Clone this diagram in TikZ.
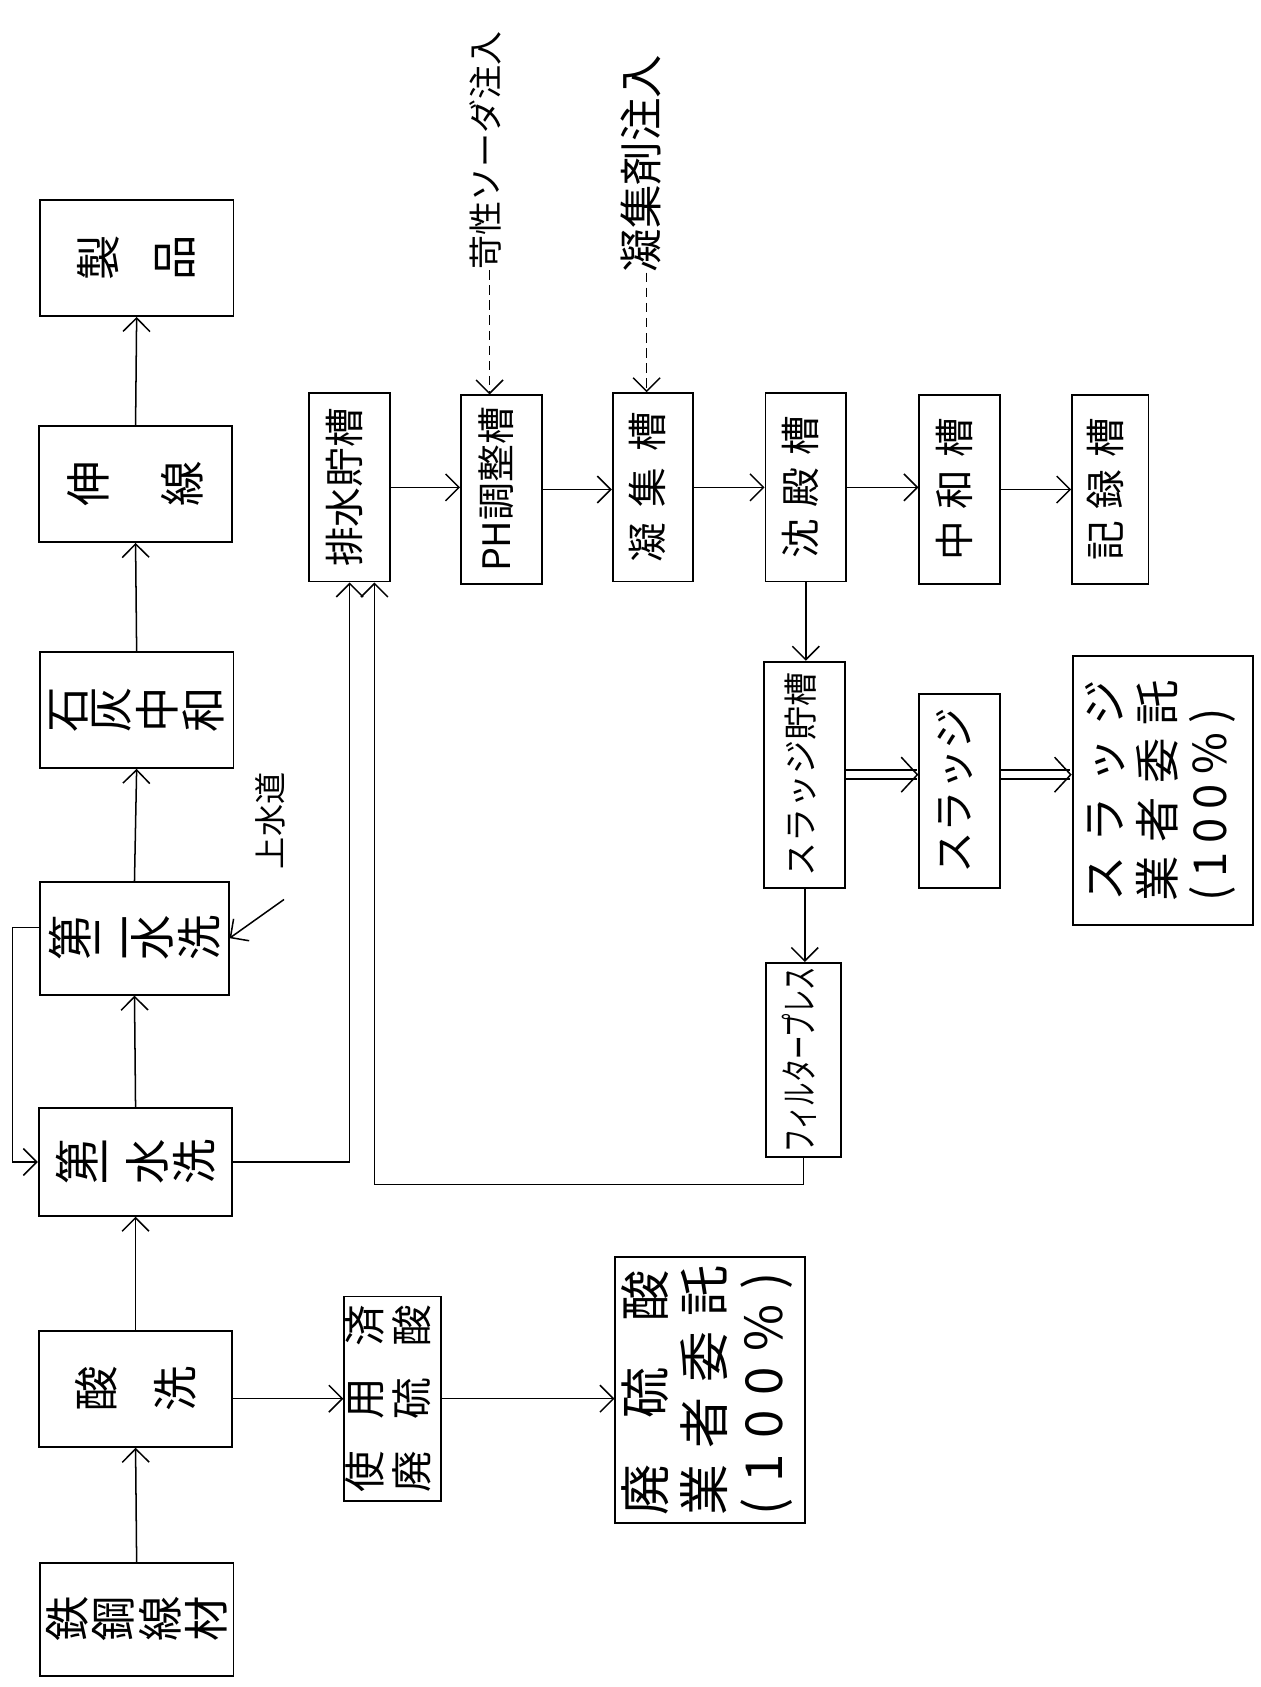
\documentclass[tikz,border=0pt]{standalone}
\usepackage{fontspec}
\setmainfont{Noto Sans CJK JP}
\usepackage{graphicx}
\usetikzlibrary{arrows.meta}
\newcommand{\turned}[1]{\rotatebox{90}{\begin{tabular}{@{}c@{}}#1\end{tabular}}}
\newcommand{\turnedl}[1]{\rotatebox{90}{\begin{tabular}{@{}l@{}}#1\end{tabular}}}
\newcommand{\upright}[1]{\rotatebox{90}{#1}}
\newcommand{\chargap}[1]{\hspace{#1em}}

\begin{document}
\begin{tikzpicture}[x=0.02cm, y=-0.02cm,
  stage/.style={draw, line width=1pt, inner sep=0pt, minimum width=3.6cm,
    minimum height=2.15cm, font=\fontsize{24}{24}\selectfont},
  tank/.style={draw, line width=1pt, inner sep=0pt, minimum width=1.5cm,
    minimum height=3.5cm, font=\fontsize{21}{24}\selectfont},
  note/.style={inner sep=0pt},
  arr/.style={line width=0.8pt, -{Straight Barb[length=2.5mm,width=5mm]}},
  dosing/.style={arr, dash pattern=on 5pt off 3pt},
  dbl/.style={double, double distance=1.4mm, line width=0.8pt,
    -{Straight Barb[length=3mm,width=6.5mm]}}]
\useasboundingbox (0,0) rectangle (1172,1568);
% =================== main line (left column) ===================
\node[stage] (product) at (127,240) {\upright{製}\hspace{0.67cm}\upright{品}};
\node[stage] (drawing) at (126,450) {\upright{伸}\hspace{0.97cm}\upright{線}};
\node[stage] (lime) at (127,660)
  {\upright{石}\chargap{.1}\upright{灰}\chargap{.1}\upright{中}\chargap{.1}\upright{和}};
\node[stage, minimum width=3.5cm, minimum height=2.1cm] (rinse2) at (125,872)
  {\upright{第}\chargap{.1}\upright{二}\chargap{.1}\upright{水}\chargap{.1}\upright{洗}};
\node[stage, minimum height=2cm] (rinse1) at (126,1080)
  {\upright{第}\chargap{.1}\upright{一}\chargap{.1}\upright{水}\chargap{.1}\upright{洗}};
\node[stage] (pickling) at (126,1291) {\upright{酸}\hspace{0.69cm}\upright{洗}};
\node[stage, minimum height=2.1cm] (wire) at (127,1505)
  {\upright{鉄}\chargap{.1}\upright{鋼}\chargap{.1}\upright{線}\chargap{.1}\upright{材}};
\foreach \a/\b in {wire/pickling, pickling/rinse1, rinse1/rinse2,
                   rinse2/lime, lime/drawing, drawing/product}
  \draw[arr] (\a.north) -- (\b.south);
% city water and the rinse loop
\node[note, font=\fontsize{17}{19}\selectfont] (citywater) at (255,763) {\turned{上水道}};
\coordinate (cwtail) at (264,836);
\draw[arr] (cwtail) -- (rinse2.east);
\draw[arr] ([yshift=0.2cm]rinse2.west) -- ++(-25,0) |- (rinse1.west);
% =================== spent acid ===================
\node[tank, minimum width=1.8cm, minimum height=3.8cm, font=\fontsize{22}{22}\selectfont]
  (acidused) at (365,1300)
  {\turned{使\chargap{.75}用\chargap{.75}済\\廃\chargap{.75}硫\chargap{.75}酸}};
\node[tank, minimum width=3.52cm, minimum height=4.94cm, font=\fontsize{27}{29.5}\selectfont]
  (acidout) at (660,1292)
  {\turnedl{廃\chargap{.9}硫\chargap{.9}酸\\業\chargap{.3}者\chargap{.3}委\chargap{.3}託\\(\chargap{.3}1\chargap{.3}0\chargap{.3}0\chargap{.3}\%\chargap{.3})}};
\draw[arr] (acidused.west -| pickling.east) -- (acidused.west);
\draw[arr] (acidused.east) -- (acidused.east -| acidout.west);
% =================== waste water treatment ===================
\node[tank] (drain) at (325,453) {\turned{排水貯槽}};
\node[tank, font=\fontsize{20}{24}\selectfont] (phtank) at (466,455) {\turned{PH調整槽}};
\node[tank] (floc) at (607,453) {\turned{凝\chargap{.4}集\chargap{.4}槽}};
\node[tank] (settle) at (749,453) {\turned{沈\chargap{.3}殿\chargap{.3}槽}};
\node[tank] (neutral) at (892,455) {\turned{中\chargap{.3}和\chargap{.3}槽}};
\node[tank, minimum width=1.42cm] (record) at (1032,455) {\turned{記\chargap{.3}録\chargap{.3}槽}};
\foreach \a/\b in {drain/phtank, phtank/floc, floc/settle, settle/neutral, neutral/record}
  \draw[arr] (\a.east) -- (\a.east -| \b.west);
\draw[arr] (rinse1.east) -| (drain.south);
% dosing
\node[note, font=\fontsize{18}{20}\selectfont] (caustic) at (455,140) {\turned{苛性ソーダ注入}};
\node[note, font=\fontsize{23}{25}\selectfont] (coag) at (601,152) {\turned{凝集剤注入}};
\draw[dosing] (caustic.south) -- (caustic.south |- phtank.north);
\draw[dosing] (coag.south) -- (coag.south |- floc.north);
% =================== sludge ===================
\node[tank, minimum height=4.2cm, font=\fontsize{18}{20}\selectfont]
  (sludgetank) at (748,720) {\turned{スラッジ貯槽}};
\node[tank, minimum width=1.4cm, minimum height=3.6cm, font=\fontsize{20}{22}\selectfont]
  (fpress) at (747,985) {\turned{\scalebox{0.62}[1]{フィルタープレス}}};
\node[tank, minimum height=3.6cm, font=\fontsize{22}{24}\selectfont]
  (sludge) at (892,735) {\turned{スラッジ}};
\node[tank, minimum width=3.36cm, minimum height=5cm, font=\fontsize{24}{26}\selectfont]
  (sludgeout) at (1081,735)
  {\turnedl{ス\chargap{.3}ラ\chargap{.3}ッ\chargap{.3}ジ\\業\chargap{.3}者\chargap{.3}委\chargap{.3}託\\(\chargap{.2}1\chargap{.2}0\chargap{.2}0\chargap{.2}\%\chargap{.2})}};
\draw[arr] (settle.south) -- (settle.south |- sludgetank.north);
\draw[arr] (sludgetank.south) -- (sludgetank.south |- fpress.north);
\draw[arr] (fpress.south) -- ++(0,25) -| ([xshift=0.46cm]drain.south);
\draw[dbl] (sludgetank.east) -- (sludgetank.east -| sludge.west);
\draw[dbl] (sludgetank.east -| sludge.east) -- (sludgetank.east -| sludgeout.west);
\end{tikzpicture}
\end{document}
